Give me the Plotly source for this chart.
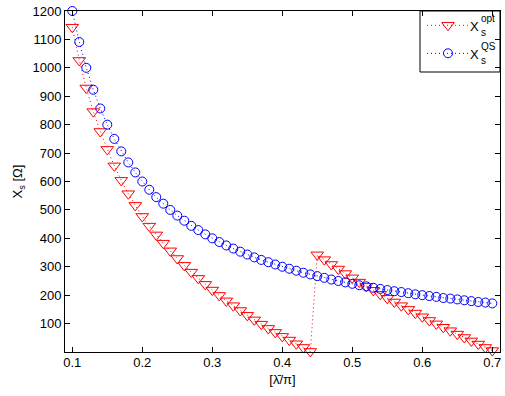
import plotly.graph_objects as go

# lambda_bar / pi
x_vals = [0.10, 0.11, 0.12, 0.13, 0.14, 0.15, 0.16, 0.17, 0.18, 0.19,
          0.20, 0.21, 0.22, 0.23, 0.24, 0.25, 0.26, 0.27, 0.28, 0.29,
          0.30, 0.31, 0.32, 0.33, 0.34, 0.35, 0.36, 0.37, 0.38, 0.39,
          0.40, 0.41, 0.42, 0.43, 0.44, 0.45, 0.46, 0.47, 0.48, 0.49,
          0.50, 0.51, 0.52, 0.53, 0.54, 0.55, 0.56, 0.57, 0.58, 0.59,
          0.60, 0.61, 0.62, 0.63, 0.64, 0.65, 0.66, 0.67, 0.68, 0.69,
          0.70]

xs_opt = [1143, 1026, 929, 846, 776, 713, 655, 604, 557, 516,
          477, 443, 412, 383, 356, 329, 305, 281, 259, 238,
          218, 199, 180, 163, 146, 129, 113, 98, 83, 69,
          55, 42, 29, 16, 2, 342, 325, 308, 292, 276,
          261, 246, 231, 217, 203, 189, 176, 163, 150, 137,
          124, 111, 99, 87, 75, 63, 51, 39, 28, 16,
          5]

xs_qs = [1200, 1091, 1000, 923, 857, 800, 750, 706, 667, 632,
         600, 571, 545, 522, 500, 480, 462, 444, 429, 414,
         400, 387, 375, 364, 353, 343, 333, 324, 316, 308,
         300, 293, 286, 279, 273, 267, 261, 255, 250, 245,
         240, 235, 231, 226, 222, 218, 214, 211, 207, 203,
         200, 197, 194, 190, 188, 185, 182, 179, 176, 174,
         171]

x_ticks = [0.1, 0.2, 0.3, 0.4, 0.5, 0.6, 0.7]
x_ticklabels = ["0.1", "0.2", "0.3", "0.4", "0.5", "0.6", "0.7"]
y_ticks = [100, 200, 300, 400, 500, 600, 700, 800, 900, 1000, 1100, 1200]
y_ticklabels = [str(v) for v in y_ticks]

series_names = ["opt", "QS"]
series_colors = ["#ff0000", "#0000ff"]
series_symbols = ["triangle-down-open", "circle-open"]
series_sizes = [11, 9]

FONT = "Liberation Sans, Arial, Helvetica, sans-serif"
DOT = "1px,3px"

fig = go.Figure()
for yv, nm, col, sym, sz in zip([xs_opt, xs_qs], series_names, series_colors,
                               series_symbols, series_sizes):
    fig.add_trace(go.Scatter(
        x=x_vals, y=yv, mode="lines+markers", name=nm, showlegend=False,
        cliponaxis=False,
        line=dict(color=col, width=1, dash=DOT),
        marker=dict(symbol=sym, size=sz, color=col, line=dict(width=1, color=col)),
    ))

# ---- hand-built legend on a pixel-space overlay axis pair ----
# overlay axes span the plot area: x 65..500 px, y 10.7..351.7 px (top-down)
leg_rows = [25, 53]
for row_y, nm, col, sym, sz in zip(leg_rows, series_names, series_colors,
                                   series_symbols, series_sizes):
    fig.add_trace(go.Scatter(
        x=[427, 469], y=[row_y, row_y], xaxis="x2", yaxis="y2", mode="lines",
        line=dict(color=col, width=1, dash=DOT), showlegend=False, hoverinfo="skip"))
    fig.add_trace(go.Scatter(
        x=[448], y=[row_y], xaxis="x2", yaxis="y2", mode="markers",
        marker=dict(symbol=sym, size=sz, color=col, line=dict(width=1, color=col)),
        showlegend=False, hoverinfo="skip"))
    fig.add_annotation(x=480, y=row_y + 1, xref="x2", yref="y2", text="X",
                       showarrow=False, xanchor="right", yanchor="middle", borderpad=0,
                       font=dict(family=FONT, size=13, color="black"))
    fig.add_annotation(x=480, y=row_y - 7, xref="x2", yref="y2", text=nm,
                       showarrow=False, xanchor="left", yanchor="middle", borderpad=0,
                       font=dict(family=FONT, size=10, color="black"))
    fig.add_annotation(x=480, y=row_y + 7, xref="x2", yref="y2", text="s",
                       showarrow=False, xanchor="left", yanchor="middle", borderpad=0,
                       font=dict(family=FONT, size=10, color="black"))

fig.add_shape(type="rect", xref="x2", yref="y2", x0=420, x1=500, y0=10.7, y1=71.7,
              line=dict(color="black", width=1), fillcolor="white", layer="below")

axis_common = dict(
    showline=True, linecolor="black", linewidth=1, mirror="ticks",
    ticks="inside", ticklen=5, tickcolor="black", tickwidth=1,
    showgrid=False, zeroline=False,
    tickfont=dict(family=FONT, size=13, color="black"),
)

fig.update_layout(
    width=505, height=396,
    margin=dict(l=65, r=5, t=11, b=44),
    paper_bgcolor="white", plot_bgcolor="white",
    font=dict(family=FONT, size=13, color="black"),
    showlegend=False,
    xaxis=dict(range=[0.0896, 0.711], tickvals=x_ticks, ticktext=x_ticklabels,
               ticklabeloverflow="allow", ticklabelstandoff=-2,
               title=dict(text="[\u03bb\u0304/\u03c0]", standoff=6,
                          font=dict(family=FONT, size=13)),
               **axis_common),
    yaxis=dict(range=[0, 1200], tickvals=y_ticks, ticktext=y_ticklabels,
               title=dict(text="X<sub>s</sub> [\u03a9]", standoff=6,
                          font=dict(family=FONT, size=13)),
               **axis_common),
    xaxis2=dict(overlaying="x", range=[65, 500], visible=False, fixedrange=True),
    yaxis2=dict(overlaying="y", range=[351.7, 10.7], visible=False, fixedrange=True),
)

fig.write_html("out.html", config={"displayModeBar": False},
               post_script="document.body.style.margin='0';document.body.style.overflow='hidden';")
